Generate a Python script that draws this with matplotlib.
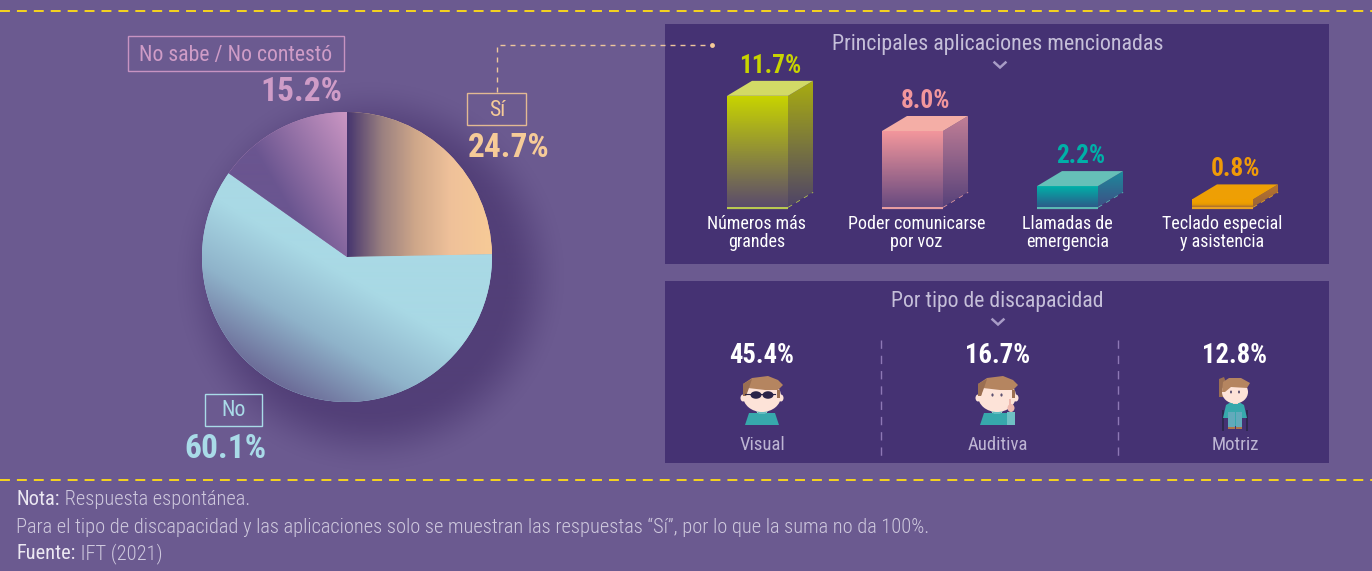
import numpy as np
import matplotlib
matplotlib.use("Agg")
import matplotlib.pyplot as plt
from matplotlib.colors import LinearSegmentedColormap, to_rgb
from matplotlib.patches import Rectangle, Polygon, Ellipse

W, H = 1372, 571
BG = "#6b5a90"
PANEL = "#453273"

pie_labels = ["Sí", "No", "No sabe / No contestó"]
pie_values = [24.7, 60.1, 15.2]
app_labels = ["Números más\ngrandes", "Poder comunicarse\npor voz", "Llamadas de\nemergencia", "Teclado especial\ny asistencia"]
app_values = [11.7, 8.0, 2.2, 0.8]
dis_labels = ["Visual", "Auditiva", "Motriz"]
dis_values = [45.4, 16.7, 12.8]

plt.rcParams["font.family"] = ["Roboto Condensed", "Roboto", "DejaVu Sans"]

fig = plt.figure(figsize=(W / 100, H / 100), dpi=100, facecolor=BG)


def px_axes(x0, y0, x1, y1, **kw):
    a = fig.add_axes([x0 / W, 1 - y1 / H, (x1 - x0) / W, (y1 - y0) / H], **kw)
    a.axis("off")
    return a


ax = px_axes(0, 0, W, H)
ax.set_xlim(0, W)
ax.set_ylim(H, 0)

for yy in (10.5, 480):
    ax.plot([0, W], [yy, yy], color="#f7d51d", lw=1.4, dashes=(5.1, 3.6))
ax.add_patch(Rectangle((665, 24), 664, 240, fc=PANEL, ec="none"))
ax.add_patch(Rectangle((665, 281), 664, 182, fc=PANEL, ec="none"))


def txt(x, y, s, size, color, weight="normal", ha="center", va="center", a=ax):
    return a.text(x, y, s, fontsize=size, color=color, fontweight=weight, ha=ha, va=va)


# ---- pie
R = 145
CX, CY = 347, 257
pa = px_axes(CX - 1.5 * R, CY - 1.5 * R, CX + 1.5 * R, CY + 1.5 * R)
pa.set_xlim(-1.5, 1.5)
pa.set_ylim(-1.5, 1.5)
gx, gy = np.meshgrid(np.linspace(-1.5, 1.5, 870), np.linspace(-1.5, 1.5, 870))
rr = np.hypot(gx - 0.16, gy + 0.14)
shadow = np.clip((1.36 - rr) / (1.36 - 0.92), 0, 1)
shadow = shadow * shadow * (3 - 2 * shadow)
img = np.zeros(gx.shape + (4,))
img[..., :3] = to_rgb("#3a2560")
img[..., 3] = 0.5 * shadow
pa.imshow(img, extent=(-1.5, 1.5, -1.5, 1.5), origin="lower", zorder=0, aspect="auto")

wedges, _ = pa.pie(pie_values, startangle=90, counterclock=False, radius=1, center=(0, 0),
                   colors=["#f5c898", "#aadbe8", "#cc97c4"], frame=False)


def grad(field, stops):
    cm = LinearSegmentedColormap.from_list("g", stops)
    return cm(np.clip(field, 0, 1))


fields = [
    grad(gx / 0.95, ["#47366f", "#9a8080", "#d0a88a", "#efc19a", "#f6c997"]),
    grad(((gx * -0.51 + gy * -0.86) - 0.12) / 0.88, ["#a9d9e5", "#8fb3ca", "#6c6c98"]),
    grad(((gx * -0.85 + gy * -0.5) + 0.5) / 0.68, ["#cc97c4", "#6a5590"]),
]
for w, f in zip(wedges, fields):
    w.set_edgecolor("none")
    im = pa.imshow(f, extent=(-1.5, 1.5, -1.5, 1.5), origin="lower", zorder=3, aspect="auto")
    im.set_clip_path(w)
pa.set_xlim(-1.5, 1.5)
pa.set_ylim(-1.5, 1.5)

# pie labels
ax.set_zorder(5)
pie_cols = ["#f6cb98", "#a9dbe8", "#cf9cc7"]
box_cols = ["#e2b993", "#a9dbe8", "#c793c2"]
boxes = [(467, 93, 58.5, 31.5), (205, 393.5, 57, 32.5), (128, 36, 216, 35)]
lab_pos = [(497, 111), (233.5, 411), (235.5, 55.5)]
val_pos = [(508.5, 148), (225.5, 449), (301.5, 92)]
for i in range(3):
    x, y, w, h = boxes[i]
    ax.add_patch(Rectangle((x, y), w, h, fc="none", ec=box_cols[i], lw=1.0))
    txt(*lab_pos[i], pie_labels[i], 15.7, pie_cols[i])
    txt(*val_pos[i], f"{pie_values[i]:.1f}%", 24, pie_cols[i], weight="bold")

ax.plot([497, 497, 708], [92, 45, 45], color="#eec79d", lw=1, dashes=(3.6, 3.6))
ax.plot([712], [45], "o", color="#f6cb98", ms=3.5, mew=0)


def chevron(x, y):
    ax.plot([x - 5.5, x, x + 5.5], [y - 2.5, y + 2.5, y - 2.5], color="#a89cc6", lw=1.8, solid_joinstyle="miter")


txt(997.5, 44.5, "Principales aplicaciones mencionadas", 15.8, "#c5bfd9")
chevron(1000, 65)
txt(997, 301.5, "Por tipo de discapacidad", 15.7, "#c5bfd9")
chevron(998, 322)

# ---- 3D bars
STEP = 155.0
SCALE = 9.5
BAR_W = 61.0
BASE = 207.0
X0 = 757.5
ba = px_axes(680, BASE - 14 * SCALE, 1320, BASE + 3 * SCALE)
ba.set_zorder(6)
ddx, ddy = 25 / STEP, 15 / SCALE
bw = BAR_W / STEP
front = [["#c8d400", "#5b4c6c"], ["#f2969c", "#694b80"], ["#00b0a8", "#2c5c8a"], ["#f0a000", "#f0a000", "#e89a00", "#a86c34"]]
side = [["#a8ac10", "#4f4468"], ["#c07e96", "#58427a"], ["#1d8a9c", "#3e4f85"], ["#b8742e", "#9a6438"]]
topc = ["#d2da66", "#f4aea6", "#66c0b8", "#ee9f04"]
basec = ["#b8c850", "#e79ca0", "#5bb8b4", "#e8a020"]
valc = ["#c8d400", "#f2969c", "#00b0a8", "#ef9a08"]
lab_shift = [-1, 4, 0, 0]
xs = np.arange(len(app_values))
rects = ba.bar(xs, app_values, width=bw, color="none", zorder=3)


def vgrad(a, stops, ext, clip):
    cm = LinearSegmentedColormap.from_list("v", stops)
    arr = cm(np.linspace(1, 0, 64))[:, None, :]
    im = a.imshow(arr, extent=ext, origin="lower", aspect="auto", zorder=3)
    im.set_clip_path(clip)


for i, (xc, v) in enumerate(zip(xs, app_values)):
    l, r = xc - bw / 2, xc + bw / 2
    ba.plot([l, r], [-0.1, -0.1], color=basec[i], lw=1.6, zorder=2, solid_capstyle="butt")
    ba.plot([r, r + ddx], [0, ddy], color=basec[i], lw=1.1, dashes=(3, 3), zorder=2)
    vgrad(ba, front[i], (l, r, 0, v), rects[i])
    sp = Polygon([(r, 0), (r + ddx, ddy), (r + ddx, v + ddy), (r, v)], fc="none", ec="none")
    ba.add_patch(sp)
    vgrad(ba, side[i], (r, r + ddx, 0, v + ddy), sp)
    ba.add_patch(Polygon([(l, v), (l + ddx, v + ddy), (r + ddx, v + ddy), (r, v)], fc=topc[i], ec="none", zorder=3))
    ba.text(xc + 13 / STEP, v + ddy + 1.6, f"{v:.1f}%", color=valc[i], fontsize=18.3, fontweight="bold", ha="center", va="center")
    first, second = app_labels[i].split("\n")
    tx = xc + lab_shift[i] / STEP
    ba.text(tx, -1.8, first, color="white", fontsize=13, ha="center", va="center")
    ba.text(tx, -3.7, second, color="white", fontsize=13, ha="center", va="center", clip_on=False)
ba.set_xlim((680 - X0) / STEP, (1320 - X0) / STEP)
ba.set_ylim(-3, 14)

# ---- disability
dis_x = [762, 998, 1235]
for x, v, l in zip(dis_x, dis_values, dis_labels):
    txt(x, 355.5, f"{v:.1f}%", 19.2, "white", weight="bold")
    txt(x, 445, l, 13.5, "#bdb5d3")
for x in (880.5, 1117.5):
    ax.plot([x, x], [340, 461], color="#8d78b5", lw=1, dashes=(6, 5))

SKIN = "#fde3d8"
HAIR = "#b58560"
HAIRD = "#9b6f52"
TEAL = "#37a8ac"


def boy(cx, eyes=True):
    ax.add_patch(Polygon([(cx - 17, 425), (cx - 13, 413), (cx + 13, 413), (cx + 17, 425)], fc=TEAL, ec="none"))
    ax.add_patch(Rectangle((cx - 5, 404), 10, 9, fc="#f3cfc2", ec="none"))
    ax.add_patch(Polygon([(cx - 6, 411), (cx + 6, 411), (cx + 3, 414), (cx - 3, 414)], fc="#63bcc0", ec="none"))
    ax.add_patch(Ellipse((cx - 19, 398), 5, 7, fc=SKIN, ec="none"))
    ax.add_patch(Ellipse((cx + 19, 398), 5, 7, fc=SKIN, ec="none"))
    ax.add_patch(Ellipse((cx, 396), 38, 32, fc=SKIN, ec="none"))
    ax.add_patch(Polygon([(cx - 19, 396), (cx - 19, 384), (cx - 10, 378), (cx + 6, 376), (cx + 16, 380), (cx + 21, 385),
                          (cx + 16, 390), (cx + 3, 390), (cx - 14, 388), (cx - 16, 396)], fc=HAIR, ec="none"))
    ax.add_patch(Polygon([(cx - 19, 396), (cx - 19, 384), (cx - 10, 379), (cx - 13, 388), (cx - 16, 396)], fc=HAIRD, ec="none"))
    ax.add_patch(Polygon([(cx + 15, 390), (cx + 18, 390), (cx + 18, 398), (cx + 15, 398)], fc=HAIRD, ec="none"))
    if eyes:
        ax.add_patch(Ellipse((cx - 4.5, 395), 2.2, 3.2, fc="#5b5070", ec="none"))
        ax.add_patch(Ellipse((cx + 4.5, 395), 2.2, 3.2, fc="#5b5070", ec="none"))


boy(762, eyes=False)
ax.add_patch(Ellipse((756, 395), 11, 7.5, fc="#2a2448", ec="none"))
ax.add_patch(Ellipse((768, 395), 11, 7.5, fc="#2a2448", ec="none"))
ax.plot([745, 775], [393.5, 393.5], color="#2a2448", lw=0.8)
boy(997)
ax.add_patch(Rectangle((1007, 412), 8, 13, fc="#6fc0c4", ec="none"))
ax.add_patch(Ellipse((1011, 408), 7, 8, fc="#eeb8ae", ec="none"))
ax.add_patch(Rectangle((1009, 399), 2, 7, fc="#eeb8ae", ec="none"))
# wheelchair figure
c = 1235
ax.add_patch(Polygon([(c - 16, 379), (c - 11, 377), (c - 8, 385), (c - 9, 397), (c - 16, 397)], fc=HAIRD, ec="none"))
ax.add_patch(Rectangle((c - 13, 410), 2, 21, fc="#2e2850", ec="none"))
ax.add_patch(Rectangle((c + 11, 410), 2, 21, fc="#2e2850", ec="none"))
ax.add_patch(Polygon([(c - 12, 418), (c - 9, 405), (c - 4, 402), (c + 4, 402), (c + 9, 405), (c + 12, 418), (c + 7, 418), (c + 7, 426), (c - 7, 426), (c - 7, 418)], fc=TEAL, ec="none"))
ax.add_patch(Rectangle((c - 7, 412), 6.5, 16, fc="#62aabb", ec="none"))
ax.add_patch(Rectangle((c + 0.5, 412), 6.5, 16, fc="#62aabb", ec="none"))
ax.add_patch(Rectangle((c - 7, 427), 6.5, 2, fc="#b0764a", ec="none"))
ax.add_patch(Rectangle((c + 0.5, 427), 6.5, 2, fc="#b0764a", ec="none"))
ax.add_patch(Rectangle((c - 2.5, 399), 5, 5, fc="#f3cfc2", ec="none"))
ax.add_patch(Ellipse((c, 392), 26, 23, fc=SKIN, ec="none"))
ax.add_patch(Polygon([(c - 13, 392), (c - 12, 382), (c - 6, 378), (c + 6, 378), (c + 15, 383), (c + 12, 388), (c - 4, 387), (c - 10, 392)], fc=HAIR, ec="none"))
ax.add_patch(Ellipse((c - 4, 392), 2, 3, fc="#5b5070", ec="none"))
ax.add_patch(Ellipse((c + 4, 392), 2, 3, fc="#5b5070", ec="none"))

# ---- footer
footer = [("Nota:", " Respuesta espontánea.", 505), (None, "Para el tipo de discapacidad y las aplicaciones solo se muestran las respuestas “Sí”, por lo que la suma no da 100%.", 533), ("Fuente:", " IFT (2021)", 559)]
fig.canvas.draw()
r = fig.canvas.get_renderer()
for head, body, y in footer:
    x = 16.5
    if head:
        t = ax.text(x, y, head, fontsize=14.7, color="#ece8f2", va="baseline", ha="left")
        x = ax.transData.inverted().transform((t.get_window_extent(r).x1, 0))[0]
    ax.text(x, y, body, fontsize=14.7, color="#cfc9de", va="baseline", ha="left", fontweight=300)

fig.savefig("out.png", dpi=100, facecolor=BG)
